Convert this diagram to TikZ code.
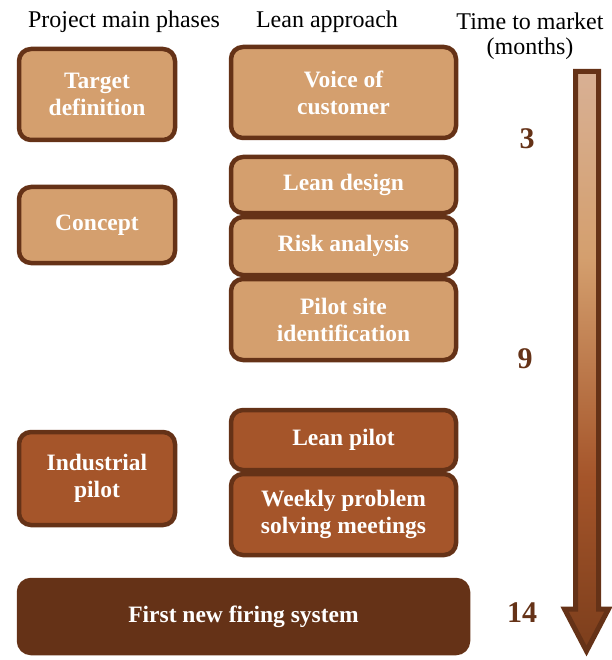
\documentclass[tikz,border=0pt]{standalone}
\usepackage{fontspec}
\setmainfont{Liberation Serif}
\usepackage{tikz}
\definecolor{lighttan}{HTML}{D49F6E}
\definecolor{sienna}{HTML}{A5552A}
\definecolor{darkbrown}{HTML}{653217}
\definecolor{arrowtop}{HTML}{D8B094}
\definecolor{arrowbot}{HTML}{7C3E1C}
\pgfdeclareverticalshading{timeshade}{100bp}{color(0bp)=(arrowbot);
  color(25bp)=(arrowbot); color(40bp)=(sienna); color(59bp)=(lighttan);
  color(75bp)=(arrowtop); color(100bp)=(arrowtop)}
\tikzset{
  phase/.style={rounded corners=12pt, line width=4.5pt, draw=darkbrown,
    text=white, align=center, inner sep=0pt,
    font=\bfseries\fontsize{23.5}{27}\selectfont},
  head/.style={align=center, font=\fontsize{24}{25}\selectfont},
  month/.style={text=darkbrown, font=\bfseries\fontsize{30}{30}\selectfont}
}

\begin{document}
\begin{tikzpicture}[x=1pt, y=-1pt]

  \useasboundingbox (0,0) rectangle (611,660); %% positioning

  %% headings
  \node[head] (hphase) at (124,22) {Project main phases};
  \node[head] (hlean) at (327,22) {Lean approach};
  \node[head] (htime) at (530,36) {Time to market\\(months)};

  %% project phases
  \node[phase, fill=lighttan, minimum width=156pt, minimum height=91pt]
    (target) at (97,94.5) {Target\\definition};
  \node[phase, fill=lighttan, minimum width=156pt, minimum height=76pt]
    (concept) at (97,225) {Concept};
  \node[phase, fill=sienna, minimum width=156pt, minimum height=93pt]
    (indus) at (97,478.5) {Industrial\\pilot};

  %% lean approach
  \node[phase, fill=lighttan, minimum width=225pt, minimum height=91pt]
    (voice) at (343.5,92.5) {Voice of\\customer};
  \node[phase, fill=lighttan, minimum width=225pt, minimum height=56pt]
    (design) at (343.5,185) {Lean design};
  \node[phase, fill=lighttan, minimum width=225pt, minimum height=58pt]
    (risk) at (343.5,246) {Risk analysis};
  \node[phase, fill=lighttan, minimum width=225pt, minimum height=81pt]
    (site) at (343.5,319.5) {Pilot site\\identification};
  \node[phase, fill=sienna, minimum width=225pt, minimum height=60pt]
    (leanpilot) at (343.5,440) {Lean pilot};
  \node[phase, fill=sienna, minimum width=225pt, minimum height=81pt]
    (weekly) at (343.5,514.5) {Weekly problem\\solving meetings};

  \node[phase, fill=darkbrown, minimum width=449pt, minimum height=73pt]
    (firing) at (243.5,616.5) {First new firing system};

  %% time to market
  \node[month] (m3) at (527,139) {3};
  \node[month] (m9) at (525,359) {9};
  \node[month] (m14) at (522,613) {14};

  \shade[draw=darkbrown, line width=5pt, shading=timeshade]
    (575.5,71.5) -- (598.5,71.5) -- (598.5,609) -- (608.5,609) -- (586.5,651)
    -- (564.5,609) -- (575.5,609) -- cycle;

\end{tikzpicture}
\end{document}
